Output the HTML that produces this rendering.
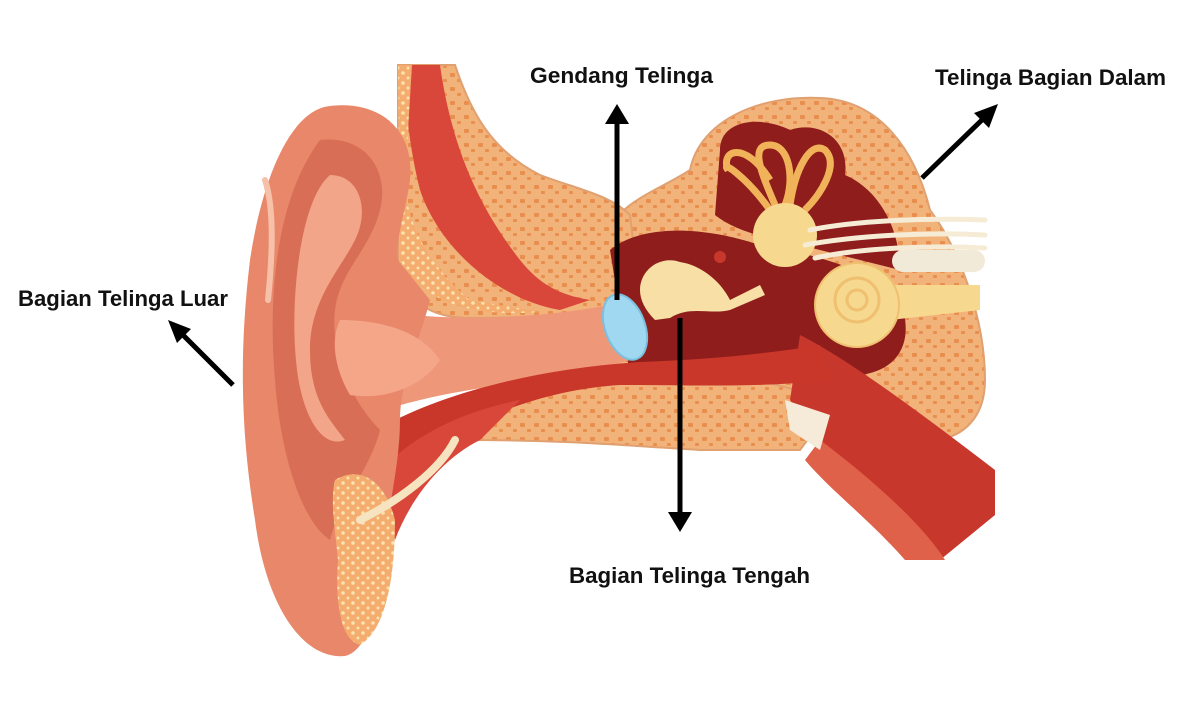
<!DOCTYPE html>
<html><head><meta charset="utf-8"><style>
html,body{margin:0;padding:0;background:#fff;}
svg{display:block}
text{font-family:"Liberation Sans",sans-serif;font-weight:bold;font-size:22.5px;fill:#111}
</style></head><body>
<svg width="1200" height="720" viewBox="0 0 1200 720" xmlns="http://www.w3.org/2000/svg">
<defs>
<pattern id="dots" width="14" height="14" patternUnits="userSpaceOnUse">
<rect width="14" height="14" fill="#f2b37a"/>
<rect x="2" y="3" width="5" height="4" rx="1" fill="#e88f4f"/>
<rect x="9" y="9" width="4" height="3" rx="1" fill="#e88f4f"/>
</pattern>
<pattern id="wdots" width="10" height="10" patternUnits="userSpaceOnUse">
<rect width="10" height="10" fill="#f4ad6e"/>
<circle cx="3" cy="3" r="1.8" fill="#fbe3b0"/>
<circle cx="8" cy="8" r="1.5" fill="#fbe3b0"/>
</pattern>
</defs>

<path d="M600,240 C620,200 660,190 690,170 C700,120 760,95 820,98 C880,100 915,150 930,210 C960,250 985,320 985,380 C985,420 960,440 930,440 L720,440 L600,420 Z" fill="url(#dots)" stroke="#e0a070" stroke-width="2"/>
<path d="M398,65 L455,65 C470,110 490,150 540,175 C580,190 610,195 630,215 L640,300 C600,310 560,318 470,318 C430,318 405,300 398,270 Z" fill="url(#dots)" stroke="#e0a070" stroke-width="2"/>
<path d="M470,410 C520,370 600,365 700,375 C780,380 820,395 830,410 L800,450 L700,450 C620,445 560,440 470,440 Z" fill="url(#dots)" stroke="#e0a070" stroke-width="2"/>

<path d="M405,65 L440,65 C448,120 465,190 520,260 C540,285 560,295 590,300 L560,310 C500,300 440,250 420,190 C410,150 405,110 405,65 Z" fill="#d9473a"/>
<path d="M398,65 L412,65 L405,180 C405,210 420,260 470,300 L540,312 C470,318 420,300 400,260 Z" fill="url(#wdots)"/>

<path d="M610,250 C640,225 700,225 760,245 C820,255 870,270 900,300 C915,340 900,370 860,375 L800,360 C780,390 700,390 630,375 Z" fill="#8e1d1b"/>
<path d="M720,150 C720,120 760,115 790,130 C820,120 850,140 845,175 C880,190 900,230 900,270 L820,250 C780,240 740,235 715,215 Z" fill="#8e1d1b"/>

<path d="M800,335 C850,360 930,420 995,470 L995,515 L940,560 C900,520 830,460 790,400 Z" fill="#c8372c"/>
<path d="M820,440 C860,470 920,520 945,560 L905,560 C870,520 830,490 805,460 Z" fill="#e0614a"/>
<path d="M785,400 L830,415 L820,450 L790,430 Z" fill="#f6ebd8"/>

<path d="M330,300 C400,320 500,325 610,305 L630,360 C560,380 480,385 420,400 C380,410 350,420 330,420 Z" fill="#ee9779"/>
<path d="M360,440 C420,400 520,370 640,362 C700,360 760,355 820,345 L830,380 C760,388 690,385 620,385 C540,390 470,420 410,460 Z" fill="#c9362a"/>
<path d="M380,470 C420,430 470,410 520,400 L480,440 C440,460 410,500 395,540 Z" fill="#d9473a"/>

<path d="M330,106 C380,100 415,130 410,180 C405,215 395,240 398,260 L430,300 C420,340 400,380 400,420 C400,460 390,500 385,540 C380,600 370,650 345,656 C300,660 265,600 255,520 C242,440 238,360 250,260 C262,180 290,110 330,106 Z" fill="#e8876a"/>
<path d="M320,140 C365,135 390,170 380,210 C370,250 340,270 335,310 C330,350 350,400 380,430 C370,470 340,500 330,540 C300,520 280,450 275,380 C268,300 275,200 320,140 Z" fill="#d86e55"/>
<path d="M330,175 C360,175 370,210 355,240 C340,270 310,300 310,350 C310,400 330,420 345,440 C320,450 300,410 296,360 C290,300 300,200 330,175 Z" fill="#f3a58a"/>
<path d="M340,320 C380,320 420,330 440,360 C420,390 380,400 350,395 C335,370 330,340 340,320 Z" fill="#f5a688"/>
<path d="M265,180 C275,210 272,260 268,300" stroke="#f7c0a8" stroke-width="6" fill="none" stroke-linecap="round"/>
<path d="M335,480 C360,465 385,480 395,520 C395,580 385,630 360,645 C340,640 335,600 338,560 C335,530 330,500 335,480 Z" fill="url(#wdots)"/>
<path d="M360,520 C400,500 440,470 455,440" stroke="#f6e3c0" stroke-width="8" fill="none" stroke-linecap="round"/>

<g fill="none" stroke="#f1b35a" stroke-width="7">
<path d="M770,210 C745,175 720,160 728,170 C720,150 745,140 770,180"/>
<path d="M775,205 C760,170 750,145 770,145 C790,145 795,180 785,205"/>
<path d="M790,205 C795,170 810,140 825,150 C840,165 820,195 805,210"/>
</g>
<circle cx="785" cy="235" r="32" fill="#f7d88f"/>
<g stroke="#f6ecd6" stroke-width="5" fill="none" stroke-linecap="round">
<path d="M810,230 C860,220 930,218 985,220"/>
<path d="M805,245 C860,235 930,232 985,235"/>
<path d="M815,258 C860,248 930,245 985,248"/>
</g>
<rect x="892" y="250" width="93" height="22" rx="11" fill="#f2ead8"/>
<path d="M870,285 L980,285 L980,310 L890,320 Z" fill="#f7d88f"/>
<circle cx="857" cy="305" r="42" fill="#f7d88f" stroke="#eec070" stroke-width="2"/>
<circle cx="857" cy="300" r="22" fill="none" stroke="#eec070" stroke-width="3"/>
<circle cx="857" cy="300" r="10" fill="none" stroke="#eec070" stroke-width="3"/>
<path d="M640,290 C640,270 660,255 680,262 C700,265 720,280 730,300 L760,285 L765,295 L730,310 C710,315 690,305 670,318 L655,320 C645,310 640,300 640,290 Z" fill="#f7dfa5"/>
<circle cx="720" cy="257" r="6" fill="#c8372c"/>
<ellipse cx="625" cy="327" rx="20" ry="34" transform="rotate(-20 625 327)" fill="#9fd8f0" stroke="#7cc0e0" stroke-width="2"/>

<g stroke="#000" stroke-width="5">
<line x1="617" y1="300" x2="617" y2="120"/>
<line x1="680" y1="318" x2="680" y2="515"/>
<line x1="922" y1="178" x2="985" y2="117"/>
<line x1="233" y1="385" x2="180" y2="332"/>
</g>
<polygon points="617,104 605,124 629,124"/>
<polygon points="680,532 668,512 692,512"/>
<polygon points="998,104 974,113 989,128"/>
<polygon points="168,320 177,343 191,329"/>

<text x="530" y="83" textLength="183" lengthAdjust="spacingAndGlyphs">Gendang Telinga</text>
<text x="935" y="85" textLength="231" lengthAdjust="spacingAndGlyphs">Telinga Bagian Dalam</text>
<text x="18" y="306" textLength="210" lengthAdjust="spacingAndGlyphs">Bagian Telinga Luar</text>
<text x="569" y="583" textLength="241" lengthAdjust="spacingAndGlyphs">Bagian Telinga Tengah</text>
</svg>
</body></html>
